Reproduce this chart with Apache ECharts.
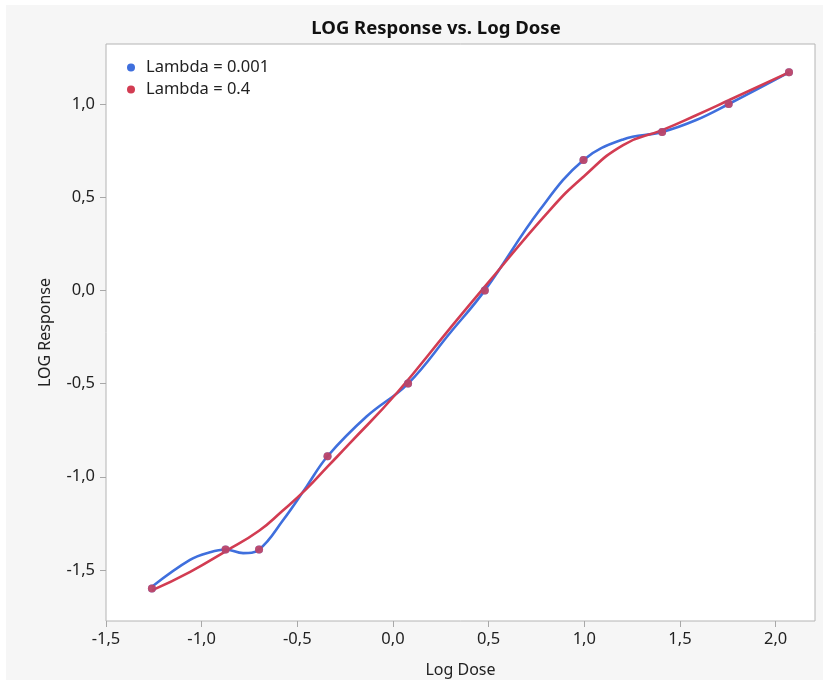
<!DOCTYPE html>
<html>
<head>
<meta charset="utf-8">
<script src="https://cdn.jsdelivr.net/npm/echarts@6/dist/echarts.min.js"></script>
<style>
  html, body { margin: 0; padding: 0; background: #ffffff; }
  #frame { position: absolute; left: 6px; top: 5px; width: 817px; height: 675px; background: #f6f6f6; }
  #chart { position: absolute; left: 0; top: 0; width: 823px; height: 680px; }
</style>
</head>
<body>
<div id="frame"></div>
<div id="chart"></div>
<script>
// Observed data: log dose vs. log response
const logDose     = [-1.26, -0.875, -0.70, -0.342, 0.079, 0.48, 0.996, 1.407, 1.755, 2.07];
const logResponse = [-1.60, -1.39, -1.39, -0.89, -0.50, 0.00, 0.70, 0.85, 1.00, 1.17];

// Smoothing spline, lambda = 0.001 (near-interpolating), sampled along the fit
const fitLowX = [-1.26, -1.061, -0.957, -0.875, -0.783, -0.70, -0.574, -0.452, -0.342, -0.138, 0.079, 0.297, 0.48, 0.767, 0.996, 1.203, 1.407, 1.585, 1.755, 2.07];
const fitLowY = [-1.59, -1.446, -1.405, -1.39, -1.41, -1.39, -1.232, -1.053, -0.89, -0.677, -0.50, -0.23, 0.00, 0.431, 0.70, 0.81, 0.85, 0.914, 1.00, 1.17];

// Smoothing spline, lambda = 0.4, sampled along the fit
const fitHighX = [-1.26, -1.06, -0.875, -0.70, -0.58, -0.452, -0.342, -0.225, 0.019, 0.297, 0.48, 0.82, 0.996, 1.203, 1.407, 1.585, 1.755, 2.07];
const fitHighY = [-1.61, -1.51, -1.40, -1.29, -1.185, -1.065, -0.946, -0.82, -0.552, -0.205, 0.02, 0.431, 0.61, 0.78, 0.86, 0.94, 1.02, 1.17];

const xTicks = [-1.5, -1.0, -0.5, 0.0, 0.5, 1.0, 1.5, 2.0];
const yTicks = [-1.5, -1.0, -0.5, 0.0, 0.5, 1.0];

const seriesNames = ['Lambda = 0.001', 'Lambda = 0.4'];
const seriesColors = ['#3f6fdd', '#d23c52'];

const zip = (xs, ys) => xs.map((x, i) => [x, ys[i]]);
const fmt = v => v.toFixed(1).replace('.', ',');
const FONT = "'Noto Sans', 'Open Sans', sans-serif";
const TXT = '#222';

const chart = echarts.init(document.getElementById('chart'));
chart.setOption({
  backgroundColor: 'transparent',
  animation: false,
  textStyle: { fontFamily: FONT },
  title: {
    text: 'LOG Response vs. Log Dose',
    left: 431,
    textAlign: 'center',
    top: 14,
    textStyle: { fontFamily: FONT, fontSize: 18.5, fontWeight: 'bold', color: '#111' }
  },
  legend: {
    data: seriesNames,
    orient: 'vertical',
    left: 122,
    top: 53,
    icon: 'circle',
    itemWidth: 20,
    itemHeight: 8,
    itemGap: 3,
    textStyle: { fontFamily: FONT, fontSize: 16.5, color: TXT, lineHeight: 19 }
  },
  grid: {
    left: 106, top: 44, right: 8, bottom: 59,
    outerBoundsMode: 'none',
    show: true, backgroundColor: '#ffffff', borderColor: '#b4b4b4', borderWidth: 1
  },
  xAxis: {
    type: 'value',
    min: -1.5, max: 2.206,
    name: 'Log Dose',
    nameLocation: 'middle',
    nameGap: 41,
    nameTextStyle: { fontFamily: FONT, fontSize: 16, color: TXT },
    axisLine: { show: false, onZero: false },
    splitLine: { show: false },
    axisTick: { show: true, length: 6, lineStyle: { color: '#a8a8a8' }, customValues: xTicks },
    axisLabel: { fontFamily: FONT, fontSize: 16.5, color: TXT, margin: 10, formatter: fmt, customValues: xTicks }
  },
  yAxis: {
    type: 'value',
    min: -1.774, max: 1.322,
    name: 'LOG Response',
    nameLocation: 'middle',
    nameGap: 53,
    nameTextStyle: { fontFamily: FONT, fontSize: 16, color: TXT },
    axisLine: { show: false, onZero: false },
    splitLine: { show: false },
    axisTick: { show: true, length: 6, lineStyle: { color: '#a8a8a8' }, customValues: yTicks },
    axisLabel: { fontFamily: FONT, fontSize: 16.5, color: TXT, margin: 11, formatter: fmt, customValues: yTicks }
  },
  series: [
    {
      name: seriesNames[0], type: 'line', smooth: 0.4, showSymbol: false,
      data: zip(fitLowX, fitLowY),
      lineStyle: { color: seriesColors[0], width: 2.6 }, itemStyle: { color: seriesColors[0] }, z: 2
    },
    {
      name: seriesNames[1], type: 'line', smooth: 0.5, showSymbol: false,
      data: zip(fitHighX, fitHighY),
      lineStyle: { color: seriesColors[1], width: 2.6 }, itemStyle: { color: seriesColors[1] }, z: 3
    },
    {
      name: 'obs-low', type: 'scatter', symbolSize: 8,
      data: zip(logDose, logResponse),
      itemStyle: { color: seriesColors[0] }, z: 4
    },
    {
      name: 'obs-high', type: 'scatter', symbolSize: 8,
      data: zip(logDose, logResponse),
      itemStyle: { color: seriesColors[1], opacity: 0.8 }, z: 5
    }
  ]
});
</script>
</body>
</html>
